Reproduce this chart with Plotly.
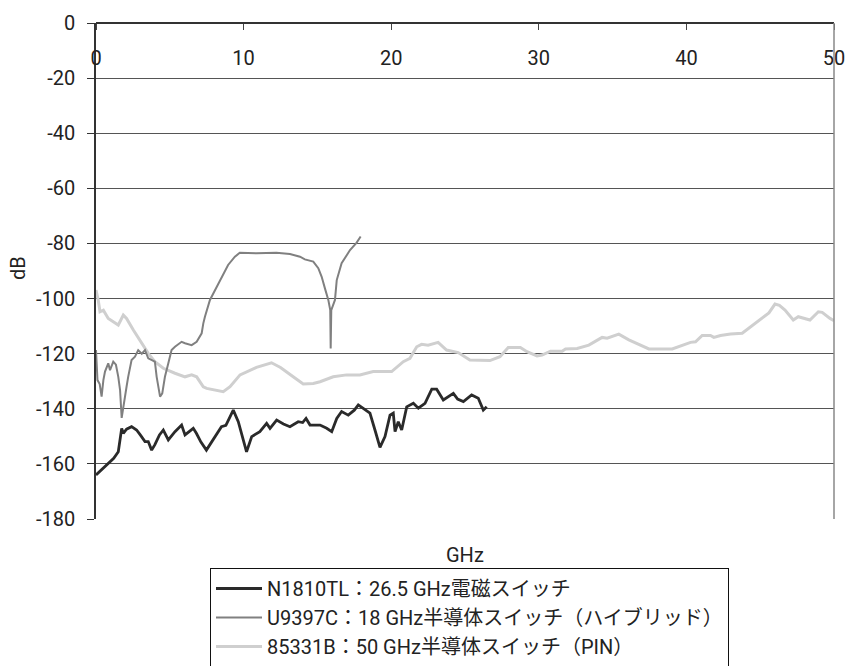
import plotly.graph_objects as go

# N1810TL : 26.5 GHz electromagnetic switch
n1810_ghz = [0, 0.7, 1.2, 1.51, 1.74, 1.85, 2.07, 2.41, 2.75, 3.0, 3.32, 3.54, 3.77, 3.99, 4.3, 4.56,
             4.9, 5.35, 5.8, 6.03, 6.59, 6.8, 7.1, 7.48, 7.94, 8.5, 8.8, 9.3, 9.64, 10.2, 10.55, 11.1,
             11.56, 11.79, 12.24, 12.7, 13.14, 13.7, 14.0, 14.23, 14.5, 15.18, 15.63, 15.97, 16.31,
             16.64, 17.09, 17.5, 17.77, 18.1, 18.56, 18.9, 19.24, 19.58, 19.92, 20.14, 20.26, 20.48,
             20.71, 21.05, 21.5, 21.84, 22.29, 22.75, 23.08, 23.53, 24.21, 24.5, 24.89, 25.45, 25.9,
             26.24, 26.47]
n1810_db = [-164, -160.5, -158, -155.6, -147.1, -148.9, -147.4, -146.5, -147.7, -149.5, -151.9, -151.9,
            -155.0, -153.0, -149.5, -147.7, -151.3, -148.3, -145.9, -149.5, -147.1, -148.9, -152, -155.0,
            -151.3, -146.5, -146.0, -140.5, -144.7, -155.6, -150.1, -148.3, -145.3, -147.1, -144.1,
            -145.5, -146.5, -144.7, -145.0, -143.5, -145.9, -145.9, -147.1, -148.3, -143.5, -141.0,
            -142.3, -140.5, -138.6, -139.8, -141.6, -147.7, -154.0, -150.1, -142.3, -141.6, -148.3,
            -144.7, -147.7, -139.3, -138.0, -139.8, -138.0, -132.9, -132.9, -136.8, -134.4, -136.5,
            -137.4, -135.0, -136.2, -140.5, -139.3]

# U9397C : 18 GHz solid-state switch (hybrid)
u9397_ghz = [0.0, 0.05, 0.1, 0.25, 0.38, 0.5, 0.61, 0.83, 0.95, 1.17, 1.35, 1.51, 1.63, 1.74, 1.85,
             2.07, 2.18, 2.41, 2.64, 2.86, 3.1, 3.32, 3.54, 3.99, 4.11, 4.34, 4.49, 4.67, 4.9, 5.12,
             5.35, 5.8, 6.03, 6.48, 6.82, 7.05, 7.16, 7.27, 7.38, 7.72, 8.06, 8.5, 8.95, 9.41, 9.74,
             10.87, 12.22, 13.14, 13.82, 14.15, 14.72, 15.06, 15.29, 15.51, 15.74, 15.87, 15.9, 15.94,
             16.19, 16.31, 16.64, 17.21, 17.66, 17.93]
u9397_db = [-118.7, -125, -129.6, -131, -135.6, -129.6, -126.5, -123.5, -126, -122.9, -124, -128.4,
            -133.2, -143.3, -139, -132, -128.4, -122.3, -121.1, -118.7, -120, -118.7, -121.7, -122.9,
            -128.4, -135.6, -134.4, -128.4, -123.5, -118.7, -117.5, -115.7, -116.2, -116.9, -115.7,
            -113.8, -112.6, -109, -106.6, -100.5, -96.9, -92.1, -87.8, -84.8, -83.4, -83.6, -83.4,
            -83.8, -84.8, -85.8, -86.6, -89.0, -92.1, -96.3, -100.5, -104.2, -118.1, -104.2, -100.5,
            -93.3, -87.2, -82.4, -79.7, -77.5]

# 85331B : 50 GHz solid-state switch (PIN)
p85331_ghz = [0.0, 0.15, 0.27, 0.5, 0.83, 1.29, 1.51, 1.85, 2.07, 2.53, 2.98, 3.54, 3.99, 4.56, 5.35,
              6.03, 6.48, 6.82, 7.27, 7.5, 8.62, 9.08, 9.76, 10.87, 11.89, 12.5, 13.36, 14.04, 14.72,
              15.18, 16.07, 16.98, 17.88, 18.78, 19.24, 20.03, 20.82, 21.27, 21.73, 22.06, 22.5, 23.18,
              23.75, 24.54, 25.33, 26.69, 27.37, 27.93, 28.75, 29.2, 29.88, 30.22, 30.79, 31.58, 31.81,
              32.6, 33.39, 34.29, 34.63, 35.42, 36.1, 36.89, 37.46, 39.04, 39.83, 40.28, 40.62, 41.07,
              41.63, 41.86, 42.31, 42.99, 43.78, 44.35, 45.02, 45.59, 46.0, 46.3, 46.68, 47.24, 47.58,
              48.37, 48.94, 49.2, 49.73, 50.0]
p85331_db = [-96.9, -100.5, -104.8, -104.2, -107.2, -109.0, -109.6, -106.0, -107.2, -111.4, -115.0,
             -119.9, -122.9, -125.3, -127.1, -128.4, -127.7, -128.4, -132.0, -132.6, -133.8, -132.0,
             -127.7, -125.0, -123.3, -125, -128.4, -131.0, -130.8, -130.2, -128.4, -127.7, -127.7,
             -126.5, -126.5, -126.5, -122.9, -121.7, -117.5, -116.6, -116.9, -115.9, -118.7, -119.6,
             -122.3, -122.5, -121.1, -117.8, -117.8, -119.3, -120.8, -120.5, -119.1, -119.1, -118.3,
             -118.1, -116.9, -114.1, -114.4, -112.9, -115.0, -116.9, -118.3, -118.3, -116.6, -115.9,
             -115.7, -113.4, -113.4, -114.1, -113.4, -112.9, -112.6, -110.2, -107.6, -105.2, -102.0,
             -102.5, -104.2, -107.8, -106.6, -107.8, -104.8, -105, -107.2, -108.0]

series_names = ["N1810TL：26.5 GHz電磁スイッチ",
                "U9397C：18 GHz半導体スイッチ（ハイブリッド）",
                "85331B：50 GHz半導体スイッチ（PIN）"]

x_ticks = [0, 10, 20, 30, 40, 50]
y_ticks = [0, -20, -40, -60, -80, -100, -120, -140, -160, -180]

FONT = "Roboto, Noto Sans CJK JP, sans-serif"
TXT = dict(family=FONT, size=20, color="#222")
LEG = dict(family=FONT, size=20, color="#222")

W, H = 849, 666

fig = go.Figure()
fig.add_trace(go.Scatter(x=p85331_ghz, y=p85331_db, mode="lines", name=series_names[2],
                         line=dict(color="#cfcfcf", width=3), legendrank=3))
fig.add_trace(go.Scatter(x=u9397_ghz, y=u9397_db, mode="lines", name=series_names[1],
                         line=dict(color="#808080", width=2), legendrank=2))
fig.add_trace(go.Scatter(x=n1810_ghz, y=n1810_db, mode="lines", name=series_names[0],
                         line=dict(color="#2a2a2a", width=2.8), legendrank=1))

fig.update_layout(
    width=W, height=H,
    margin=dict(l=96, r=15, t=23, b=147, autoexpand=False),
    paper_bgcolor="white", plot_bgcolor="white",
    font=TXT,
    showlegend=True,
    legend=dict(xref="container", yref="container", x=210 / W, y=1 - 568 / H,
                xanchor="left", yanchor="top", itemwidth=46,
                bordercolor="#111", borderwidth=1, bgcolor="white",
                font=LEG, traceorder="normal"),
    xaxis=dict(range=[0, 50], side="bottom", anchor="free", position=1,
               tickvals=x_ticks, ticktext=[str(v) for v in x_ticks],
               ticks="outside", ticklen=6, tickcolor="#444",
               ticklabelstandoff=11,
               showline=True, linecolor="#333", linewidth=1.5, showgrid=False, zeroline=False,
               tickfont=TXT, automargin=False),
    yaxis=dict(range=[-180, 0], tickvals=y_ticks, ticktext=[str(v) for v in y_ticks],
               ticks="outside", ticklen=7, tickcolor="#333",
               ticklabelstandoff=8,
               showline=True, linecolor="#333", linewidth=1.5,
               showgrid=True, gridcolor="#555", gridwidth=1, zeroline=False,
               tickfont=TXT, automargin=False),
    shapes=[dict(type="line", xref="paper", yref="paper", x0=1, x1=1, y0=0, y1=1,
                 line=dict(color="#888", width=1.5))],
    annotations=[
        dict(text="GHz", xref="paper", yref="paper", x=0.5, y=0, yshift=-36,
             showarrow=False, font=TXT, yanchor="middle"),
        dict(text="dB", xref="paper", yref="paper", x=0, y=0.5, xshift=-78, yshift=3,
             textangle=-90, showarrow=False, font=TXT, xanchor="center", yanchor="middle"),
    ],
)

fig.write_html("out.html", config={"displayModeBar": False},
               post_script="document.body.style.margin='0px';document.body.style.overflow='hidden';")
